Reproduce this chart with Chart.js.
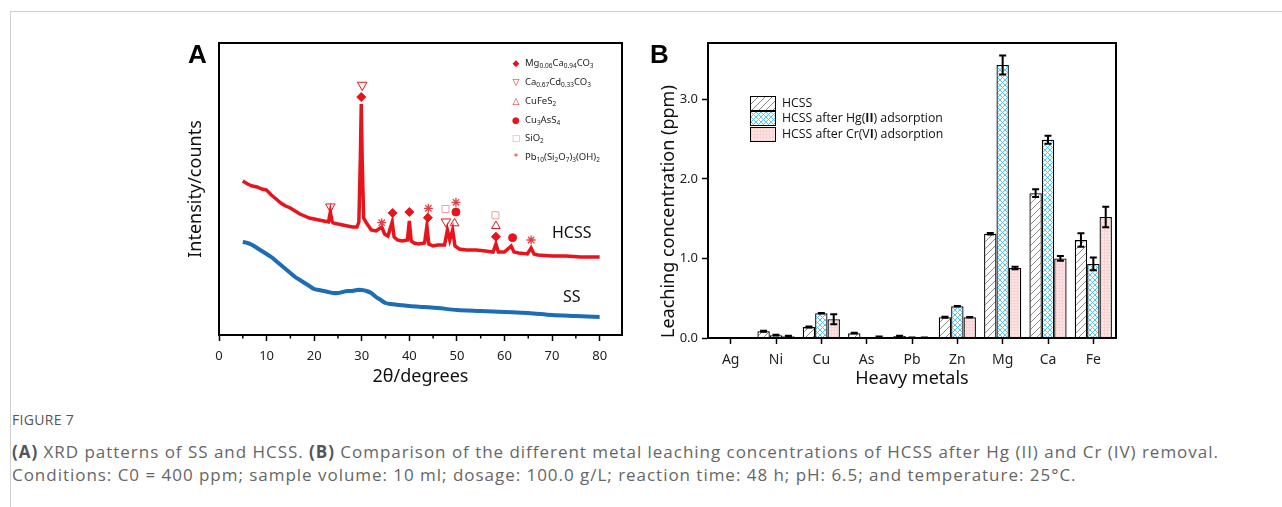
<!DOCTYPE html>
<html>
<head>
<meta charset="utf-8">
<script src="https://cdn.jsdelivr.net/npm/chart.js@4.4.0/dist/chart.umd.min.js"></script>
<style>
  body { margin: 0; background: #fff; width: 1282px; height: 507px; overflow: hidden; position: relative; font-family: 'Noto Sans', sans-serif; }
  #frame { position: absolute; left: 10px; top: 11px; width: 1400px; height: 600px; border-left: 1px solid #d0d0d0; border-top: 1px solid #d0d0d0; }
  #wa { position: absolute; left: 160px; top: 30px; }
  #wb { position: absolute; left: 630px; top: 30px; }
  .panel { position: absolute; font: bold 26px 'Liberation Sans', Arial, sans-serif; line-height: 1; color: #000; }
  .curve { position: absolute; font-size: 16px; line-height: 1; color: #111; }
  .leg-a { position: absolute; left: 507px; font-family: 'Liberation Sans Narrow', 'Noto Sans', sans-serif; font-size: 9.5px; line-height: 1; color: #222; white-space: nowrap; }
  .leg-a .m { display: inline-block; width: 18px; text-align: center; color: #e8141b; font-family: 'DejaVu Sans', sans-serif; font-size: 9px; }
  .leg-a sub { font-size: 6.5px; vertical-align: -2px; }
  .leg-b { position: absolute; left: 750px; font-family: 'Open Sans', sans-serif; font-size: 12.3px; line-height: 1; color: #111; white-space: nowrap; }
  .leg-b canvas { width: 24px; height: 13px; border: 1px solid #000; vertical-align: middle; margin-right: 6px; box-sizing: content-box; }
  #cap { position: absolute; left: 12px; top: 410px; color: #666; font-family: 'Open Sans', sans-serif; }
  #cap .fig { font-size: 14px; color: #555; letter-spacing: 0.3px; }
  #cap .txt { font-size: 17px; letter-spacing: 0.97px; line-height: 23px; margin-top: 11px; white-space: nowrap; }
  #cap b { color: #555; }
</style>
</head>
<body>
<div id="frame"></div>
<div id="wa"><canvas id="xrd" width="470" height="365"></canvas></div>
<div id="wb"><canvas id="leach" width="500" height="365"></canvas></div>

<div class="panel" style="left:188px;top:41px">A</div>
<div class="panel" style="left:650px;top:41px">B</div>

<div class="curve" style="left:552px;top:224px">HCSS</div>
<div class="curve" style="left:563px;top:288px">SS</div>

<div class="leg-a" style="top:58px"><span class="m">&#9670;</span>Mg<sub>0.06</sub>Ca<sub>0.94</sub>CO<sub>3</sub></div>
<div class="leg-a" style="top:77px"><span class="m">&#9661;</span>Ca<sub>0.67</sub>Cd<sub>0.33</sub>CO<sub>3</sub></div>
<div class="leg-a" style="top:96px"><span class="m">&#9651;</span>CuFeS<sub>2</sub></div>
<div class="leg-a" style="top:115px"><span class="m">&#9679;</span>Cu<sub>3</sub>AsS<sub>4</sub></div>
<div class="leg-a" style="top:133px"><span class="m" style="color:#f2a0a0">&#9633;</span>SiO<sub>2</sub></div>
<div class="leg-a" style="top:152px"><span class="m">&#42;</span>Pb<sub>10</sub>(Si<sub>2</sub>O<sub>7</sub>)<sub>3</sub>(OH)<sub>2</sub></div>

<div class="leg-b" style="top:96px"><canvas id="sw0" width="24" height="13"></canvas>HCSS</div>
<div class="leg-b" style="top:111px"><canvas id="sw1" width="24" height="13"></canvas>HCSS after Hg(<b>II</b>) adsorption</div>
<div class="leg-b" style="top:127px"><canvas id="sw2" width="24" height="13"></canvas>HCSS after Cr(V<b>I</b>) adsorption</div>

<div id="cap">
  <div class="fig">FIGURE 7</div>
  <div class="txt"><b>(A)</b> XRD patterns of SS and HCSS. <b>(B)</b> Comparison of the different metal leaching concentrations of HCSS after Hg (II) and Cr (IV) removal.<br>Conditions: C0 = 400 ppm; sample volume: 10 ml; dosage: 100.0 g/L; reaction time: 48 h; pH: 6.5; and temperature: 25&deg;C.</div>
</div>

<script>
// ---- panel A: XRD patterns (2theta in degrees, intensity in arbitrary counts)
const thetaHCSS = [5, 6, 7, 8, 9, 10, 11, 12, 13, 14, 15, 16, 17, 18, 19, 20, 21, 22, 23, 23.4, 23.8, 24, 25, 26, 27, 28, 29, 29.4, 29.7, 29.9, 30.1, 30.4, 31, 32, 33, 34.2, 34.8, 35.5, 36.4, 36.8, 37.5, 38.5, 39.6, 40.0, 40.4, 41, 42, 43.2, 43.7, 44.1, 45, 46, 47.4, 48.0, 48.5, 49.1, 49.6, 50.5, 52, 54, 56, 57.6, 58.2, 58.7, 60, 61.4, 62, 63, 64.8, 65.6, 66.2, 67, 70, 73, 76, 80];
const countsHCSS = [1540, 1510, 1490, 1480, 1460, 1450, 1400, 1360, 1320, 1290, 1270, 1240, 1210, 1190, 1170, 1160, 1150, 1140, 1130, 1230, 1130, 1120, 1110, 1100, 1090, 1080, 1080, 1130, 1750, 2310, 1750, 1170, 1120, 1050, 1040, 1080, 1010, 990, 1130, 980, 950, 940, 950, 1140, 940, 920, 910, 920, 1090, 910, 890, 900, 900, 1050, 950, 1050, 890, 860, 850, 850, 840, 830, 910, 830, 830, 890, 830, 820, 810, 870, 810, 800, 790, 790, 780, 780];
const thetaSS = [5, 6, 7, 8, 9, 10, 11, 12, 13, 14, 15, 16, 17, 18, 19, 20, 21, 22, 23, 24, 25, 26, 27, 28, 29, 30, 31, 32, 33, 34, 35, 36, 38, 40, 43, 46, 50, 55, 60, 65, 70, 75, 80];
const countsSS = [930, 920, 900, 870, 840, 810, 780, 740, 700, 660, 620, 580, 550, 520, 490, 460, 450, 440, 430, 420, 420, 430, 440, 440, 450, 450, 440, 420, 380, 350, 320, 310, 300, 290, 280, 270, 250, 240, 230, 220, 200, 190, 180];

// phase markers [2theta, counts]
const markMgCaCO3 = [[29.9, 2380], [36.5, 1220], [40.0, 1230], [43.9, 1173], [58.2, 983]];
const markCaCdCO3 = [[30.1, 2500], [23.4, 1283], [47.7, 1133]];
const markCuFeS2 = [[49.5, 1117], [58.2, 1090]];
const markCu3AsS4 = [[49.8, 1230], [61.7, 973]];
const markSiO2 = [[47.6, 1260], [58.1, 1197]];
const markPbSiO = [[34.2, 1123], [44.0, 1267], [49.8, 1327], [65.6, 950]];

// ---- panel B: leaching concentrations (ppm)
const metals = ['Ag', 'Ni', 'Cu', 'As', 'Pb', 'Zn', 'Mg', 'Ca', 'Fe'];
const hcss = [0, 0.085, 0.137, 0.06, 0.025, 0.26, 1.31, 1.82, 1.23];
const hcssErr = [0, 0.005, 0.006, 0.005, 0.004, 0.006, 0.01, 0.05, 0.085];
const hcssHg = [0, 0.035, 0.31, 0, 0.005, 0.40, 3.43, 2.49, 0.93];
const hcssHgErr = [0, 0.005, 0.003, 0, 0.002, 0.003, 0.12, 0.05, 0.08];
const hcssCr = [0, 0.022, 0.235, 0.015, 0.005, 0.26, 0.88, 1.00, 1.52];
const hcssCrErr = [0, 0.005, 0.063, 0.004, 0.002, 0.003, 0.015, 0.03, 0.13];

const FONT = "'Noto Sans', sans-serif";
const RED = '#e8141b';
const BLUE = '#1c6db5';

function toXY(xs, ys) {
  return xs.map((x, i) => ({x: x, y: ys[i]}));
}
function pts(list) {
  return list.map(p => ({x: p[0], y: p[1]}));
}

function makePattern(kind) {
  const c = document.createElement('canvas');
  const g = c.getContext('2d');
  if (kind === 'hatch') {
    c.width = c.height = 7;
    g.fillStyle = '#fff';
    g.fillRect(0, 0, 7, 7);
    g.strokeStyle = '#8a8a8a';
    g.lineWidth = 1;
    g.beginPath();
    g.moveTo(-1, 8); g.lineTo(8, -1);
    g.moveTo(-1, 1); g.lineTo(1, -1);
    g.moveTo(6, 8); g.lineTo(8, 6);
    g.stroke();
  } else if (kind === 'cross') {
    c.width = c.height = 5;
    g.fillStyle = '#fff';
    g.fillRect(0, 0, 5, 5);
    g.strokeStyle = '#55c8f0';
    g.lineWidth = 1;
    g.beginPath();
    g.moveTo(0, 0); g.lineTo(5, 5);
    g.moveTo(0, 5); g.lineTo(5, 0);
    g.stroke();
  } else {
    c.width = c.height = 3;
    g.fillStyle = '#fde5e5';
    g.fillRect(0, 0, 3, 3);
    g.fillStyle = '#f8d3d3';
    g.fillRect(0, 0, 3, 1);
    g.fillRect(0, 0, 1, 3);
  }
  return g.createPattern(c, 'repeat');
}

const frameBox = {
  id: 'frameBox',
  afterDraw(chart) {
    const {ctx, chartArea: a} = chart;
    ctx.save();
    ctx.strokeStyle = '#000';
    ctx.lineWidth = 2;
    ctx.strokeRect(a.left, a.top, a.right - a.left, a.bottom - a.top);
    ctx.restore();
  }
};

const minorTicks = {
  id: 'minorTicks',
  afterDraw(chart) {
    if (!chart.options.plugins.minorTicks) return;
    const x = chart.scales.x;
    const ctx = chart.ctx;
    ctx.save();
    ctx.strokeStyle = '#000';
    ctx.lineWidth = 1.5;
    ctx.beginPath();
    for (let v = 5; v < x.max; v += 10) {
      const px = x.getPixelForValue(v);
      ctx.moveTo(px, x.top);
      ctx.lineTo(px, x.top + 3.5);
    }
    ctx.stroke();
    ctx.restore();
  }
};

const errorBars = {
  id: 'errorBars',
  afterDatasetsDraw(chart) {
    const y = chart.scales.y;
    const ctx = chart.ctx;
    ctx.save();
    ctx.strokeStyle = '#000';
    ctx.lineWidth = 2;
    chart.data.datasets.forEach((ds, i) => {
      if (!ds.errors) return;
      const meta = chart.getDatasetMeta(i);
      ds.errors.forEach((e, j) => {
        const v = ds.data[j];
        if (!v) return;
        const bx = meta.data[j].x;
        const hi = y.getPixelForValue(v + e);
        const lo = y.getPixelForValue(v - e);
        ctx.beginPath();
        ctx.moveTo(bx, hi); ctx.lineTo(bx, lo);
        ctx.moveTo(bx - 3.5, hi); ctx.lineTo(bx + 3.5, hi);
        ctx.moveTo(bx - 3.5, lo); ctx.lineTo(bx + 3.5, lo);
        ctx.stroke();
      });
    });
    ctx.restore();
  }
};

Chart.defaults.font.family = FONT;
Chart.defaults.color = '#222';

function marker(data, style, opts) {
  return Object.assign({
    data: pts(data),
    showLine: false,
    pointStyle: style,
    pointRadius: 4.5,
    pointBackgroundColor: RED,
    pointBorderColor: RED,
    pointBorderWidth: 1,
    order: 0
  }, opts || {});
}

new Chart(document.getElementById('xrd'), {
  type: 'scatter',
  data: {
    datasets: [
      {data: toXY(thetaHCSS, countsHCSS), showLine: true, borderColor: RED, borderWidth: 3.5, pointRadius: 0, tension: 0, order: 1},
      {data: toXY(thetaSS, countsSS), showLine: true, borderColor: BLUE, borderWidth: 4, pointRadius: 0, tension: 0.3, order: 1},
      marker(markMgCaCO3, 'rectRot', {pointRadius: 4.5}),
      marker(markCaCdCO3, 'triangle', {pointRotation: 180, pointRadius: 5.5, pointBackgroundColor: 'rgba(0,0,0,0)'}),
      marker(markCuFeS2, 'triangle', {pointRadius: 5, pointBackgroundColor: 'rgba(0,0,0,0)'}),
      marker(markCu3AsS4, 'circle', {pointRadius: 4}),
      marker(markSiO2, 'rect', {pointRadius: 5, pointBackgroundColor: 'rgba(0,0,0,0)', pointBorderColor: '#f2a0a0'}),
      marker(markPbSiO, 'star', {pointRadius: 4.5, pointBorderColor: '#ea3b43', pointBorderWidth: 1.3})
    ]
  },
  options: {
    responsive: false,
    animation: false,
    devicePixelRatio: 1,
    layout: {padding: {top: 13, right: 8, left: 0, bottom: 0}},
    plugins: {legend: {display: false}, tooltip: {enabled: false}, minorTicks: true},
    scales: {
      x: {
        type: 'linear',
        min: 0,
        max: 84.7,
        ticks: {stepSize: 10, includeBounds: false, padding: 7, font: {size: 13}, color: '#222'},
        grid: {drawOnChartArea: false, tickLength: 6, tickColor: '#000', tickWidth: 1.5},
        border: {color: '#000', width: 2},
        title: {display: true, text: '2θ/degrees', font: {size: 18}, color: '#111', padding: {top: 0, bottom: 7.7}},
        afterFit(s) { s.height = 60; }
      },
      y: {
        min: 0,
        max: 2920,
        ticks: {display: false},
        grid: {display: false},
        border: {color: '#000', width: 2},
        title: {display: true, text: 'Intensity/counts', font: {size: 18}, color: '#111', padding: {top: 24.7, bottom: 0}},
        afterFit(s) { s.width = 59; }
      }
    }
  },
  plugins: [frameBox, minorTicks]
});

const patHatch = makePattern('hatch');
const patCross = makePattern('cross');
const patPink = makePattern('pink');

new Chart(document.getElementById('leach'), {
  type: 'bar',
  data: {
    labels: metals,
    datasets: [
      {label: 'HCSS', data: hcss, errors: hcssErr, backgroundColor: patHatch},
      {label: 'HCSS after Hg(II) adsorption', data: hcssHg, errors: hcssHgErr, backgroundColor: patCross},
      {label: 'HCSS after Cr(VI) adsorption', data: hcssCr, errors: hcssCrErr, backgroundColor: patPink}
    ]
  },
  options: {
    responsive: false,
    animation: false,
    devicePixelRatio: 1,
    layout: {padding: {top: 13, right: 14, left: 0, bottom: 0}},
    datasets: {bar: {borderColor: '#000', borderWidth: 1.3, categoryPercentage: 0.82, barPercentage: 1}},
    plugins: {legend: {display: false}, tooltip: {enabled: false}},
    scales: {
      x: {
        ticks: {padding: 8, font: {size: 14}, color: '#222'},
        grid: {offset: false, drawOnChartArea: false, tickLength: 6, tickColor: '#000', tickWidth: 1.5},
        border: {color: '#000', width: 2},
        title: {display: true, text: 'Heavy metals', font: {size: 18}, color: '#111', padding: {top: 0, bottom: 5.2}},
        afterFit(s) { s.height = 57; }
      },
      y: {
        min: 0,
        max: 3.706,
        ticks: {stepSize: 1, includeBounds: false, padding: 4, font: {size: 13}, color: '#222', callback: v => v.toFixed(1)},
        grid: {drawOnChartArea: false, tickLength: 6, tickColor: '#000', tickWidth: 1.5},
        border: {color: '#000', width: 2},
        title: {display: true, text: 'Leaching concentration (ppm)', align: 'start', font: {size: 18}, color: '#111', padding: {top: 27.7, bottom: 0}},
        afterFit(s) { s.width = 78; }
      }
    }
  },
  plugins: [errorBars, frameBox]
});

// legend swatches for panel B
[patHatch, patCross, patPink].forEach((p, i) => {
  const g = document.getElementById('sw' + i).getContext('2d');
  g.fillStyle = p;
  g.fillRect(0, 0, 24, 13);
});
</script>
</body>
</html>
